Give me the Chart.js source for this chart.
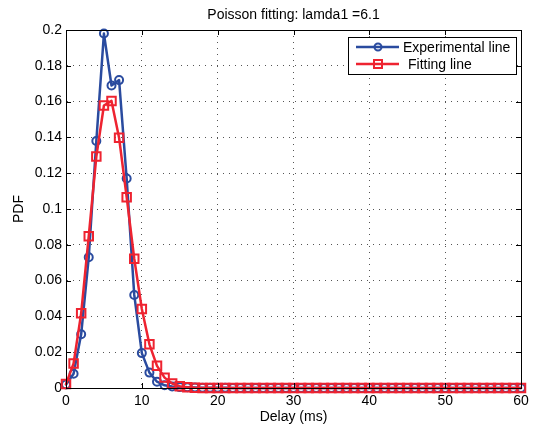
<!DOCTYPE html>
<html>
<head>
<meta charset="utf-8">
<script src="https://cdn.jsdelivr.net/npm/chart.js@4/dist/chart.umd.min.js"></script>
<style>
html,body{margin:0;padding:0;background:#fff;}
#wrap{width:535px;height:427px;position:relative;}
</style>
</head>
<body>
<div id="wrap"><canvas id="c" width="535" height="427"></canvas></div>
<script>
const delays = Array.from({length: 61}, (_, i) => i);
const experimental = [
  0.002, 0.008, 0.030, 0.073, 0.138, 0.198, 0.169, 0.172, 0.117, 0.052,
  0.0195, 0.0086, 0.0035, 0.0015, 0.0008, 0.0005, 0.0004, 0.0003, 0.0002, 0.0002,
  0.0001, 0.0001, 0, 0, 0, 0, 0, 0, 0, 0,
  0, 0, 0, 0, 0, 0, 0, 0, 0, 0,
  0, 0, 0, 0, 0, 0, 0, 0, 0, 0,
  0, 0, 0, 0, 0, 0, 0, 0, 0, 0,
  0
];
const fitting = [
  0.0022, 0.0137, 0.0417, 0.0848, 0.1293, 0.1578, 0.1604, 0.1398, 0.1066, 0.0722,
  0.0441, 0.0244, 0.0124, 0.0058, 0.0025, 0.0010, 0.0004, 0.0001, 0, 0,
  0, 0, 0, 0, 0, 0, 0, 0, 0, 0,
  0, 0, 0, 0, 0, 0, 0, 0, 0, 0,
  0, 0, 0, 0, 0, 0, 0, 0, 0, 0,
  0, 0, 0, 0, 0, 0, 0, 0, 0, 0,
  0
];
const xTicks = [0, 10, 20, 30, 40, 50, 60];
const yTicks = [0, 0.02, 0.04, 0.06, 0.08, 0.1, 0.12, 0.14, 0.16, 0.18, 0.2];
const labels = ['Experimental line', 'Fitting line'];

const BLUE = '#2a4b9f';
const RED = '#ee2330';
const FONT = "'Liberation Sans', Arial, sans-serif";
const FS = 14;

const boxPlugin = {
  id: 'boxPlugin',
  afterDraw(chart) {
    const {ctx, chartArea: a, scales} = chart;
    ctx.save();
    ctx.strokeStyle = '#000';
    ctx.lineWidth = 1;
    ctx.strokeRect(a.left + 0.5, a.top + 0.5, a.right - a.left, a.bottom - a.top);
    // inward ticks
    ctx.beginPath();
    xTicks.forEach(v => {
      const x = Math.round(scales.x.getPixelForValue(v)) + 0.5;
      ctx.moveTo(x, a.bottom); ctx.lineTo(x, a.bottom - 5);
      ctx.moveTo(x, a.top); ctx.lineTo(x, a.top + 5);
    });
    yTicks.forEach(v => {
      const y = Math.round(scales.y.getPixelForValue(v)) + 0.5;
      ctx.moveTo(a.left, y); ctx.lineTo(a.left + 5, y);
      ctx.moveTo(a.right, y); ctx.lineTo(a.right - 5, y);
    });
    ctx.stroke();
    // legend
    const bx = 348, by = 37, bw = 168, bh = 37;
    ctx.fillStyle = '#fff';
    ctx.fillRect(bx, by, bw, bh);
    ctx.strokeRect(bx + 0.5, by + 0.5, bw, bh);
    ctx.font = FS + 'px ' + FONT;
    ctx.textBaseline = 'middle';
    ctx.textAlign = 'left';
    const rows = [
      {label: chart.data.datasets[1].label, color: BLUE, shape: 'circle', y: by + 10, tx: 55},
      {label: chart.data.datasets[0].label, color: RED, shape: 'rect', y: by + 27, tx: 60}
    ];
    rows.forEach(r => {
      ctx.strokeStyle = r.color;
      ctx.lineWidth = 2.5;
      ctx.beginPath();
      ctx.moveTo(bx + 8, r.y); ctx.lineTo(bx + 51, r.y);
      ctx.stroke();
      ctx.lineWidth = 2;
      ctx.beginPath();
      if (r.shape === 'circle') {
        ctx.arc(bx + 30, r.y, 3.5, 0, Math.PI * 2);
      } else {
        ctx.rect(bx + 26, r.y - 4, 8, 8);
      }
      ctx.stroke();
      ctx.fillStyle = '#000';
      ctx.fillText(r.label, bx + r.tx, r.y + 1);
    });
    ctx.restore();
  }
};

new Chart(document.getElementById('c'), {
  type: 'line',
  data: {
    labels: delays,
    datasets: [
      {
        label: labels[1],
        data: fitting,
        borderColor: RED,
        backgroundColor: 'rgba(0,0,0,0)',
        borderWidth: 2.5,
        borderJoinStyle: 'round',
        borderCapStyle: 'round',
        pointStyle: 'rect',
        pointRadius: 6,
        pointBorderWidth: 2,
        pointBorderColor: RED,
        pointBackgroundColor: 'rgba(0,0,0,0)',
        tension: 0,
        clip: false,
        order: 0
      },
      {
        label: labels[0],
        data: experimental,
        borderColor: BLUE,
        backgroundColor: 'rgba(0,0,0,0)',
        borderWidth: 2.5,
        borderJoinStyle: 'round',
        borderCapStyle: 'round',
        pointStyle: 'circle',
        pointRadius: 4,
        pointBorderWidth: 2,
        pointBorderColor: BLUE,
        pointBackgroundColor: 'rgba(0,0,0,0)',
        tension: 0,
        clip: false,
        order: 1
      }
    ]
  },
  options: {
    responsive: false,
    animation: false,
    layout: {padding: {left: 0, right: 14, top: 0, bottom: 0}},
    plugins: {
      legend: {display: false},
      tooltip: {enabled: false},
      title: {
        display: true,
        text: 'Poisson fitting: lamda1 =6.1',
        fullSize: false,
        color: '#000',
        font: {family: FONT, size: FS, weight: 'normal'},
        padding: {top: 6.6, bottom: 6.6}
      }
    },
    scales: {
      x: {
        type: 'linear',
        min: 0, max: 60,
        afterFit(s) { s.height = 39; },
        afterBuildTicks(s) { s.ticks = xTicks.map(v => ({value: v})); },
        ticks: {color: '#000', font: {family: FONT, size: FS}, padding: 5, maxRotation: 0},
        grid: {color: '#555', drawTicks: false},
        border: {display: true, color: '#000', dash: [1, 5]},
        title: {display: true, text: 'Delay (ms)', color: '#000', font: {family: FONT, size: FS}, padding: {top: 0, bottom: 1.5}}
      },
      y: {
        type: 'linear',
        min: 0, max: 0.2,
        afterFit(s) { s.width = 66; },
        afterBuildTicks(s) { s.ticks = yTicks.map(v => ({value: v})); },
        ticks: {color: '#000', font: {family: FONT, size: FS}, padding: 4, callback: v => String(+v.toFixed(2))},
        grid: {color: '#555', drawTicks: false},
        border: {display: true, color: '#000', dash: [1, 5]},
        title: {display: true, text: 'PDF', color: '#000', font: {family: FONT, size: FS}, padding: {top: 11, bottom: 0}}
      }
    }
  },
  plugins: [boxPlugin]
});
</script>
</body>
</html>
